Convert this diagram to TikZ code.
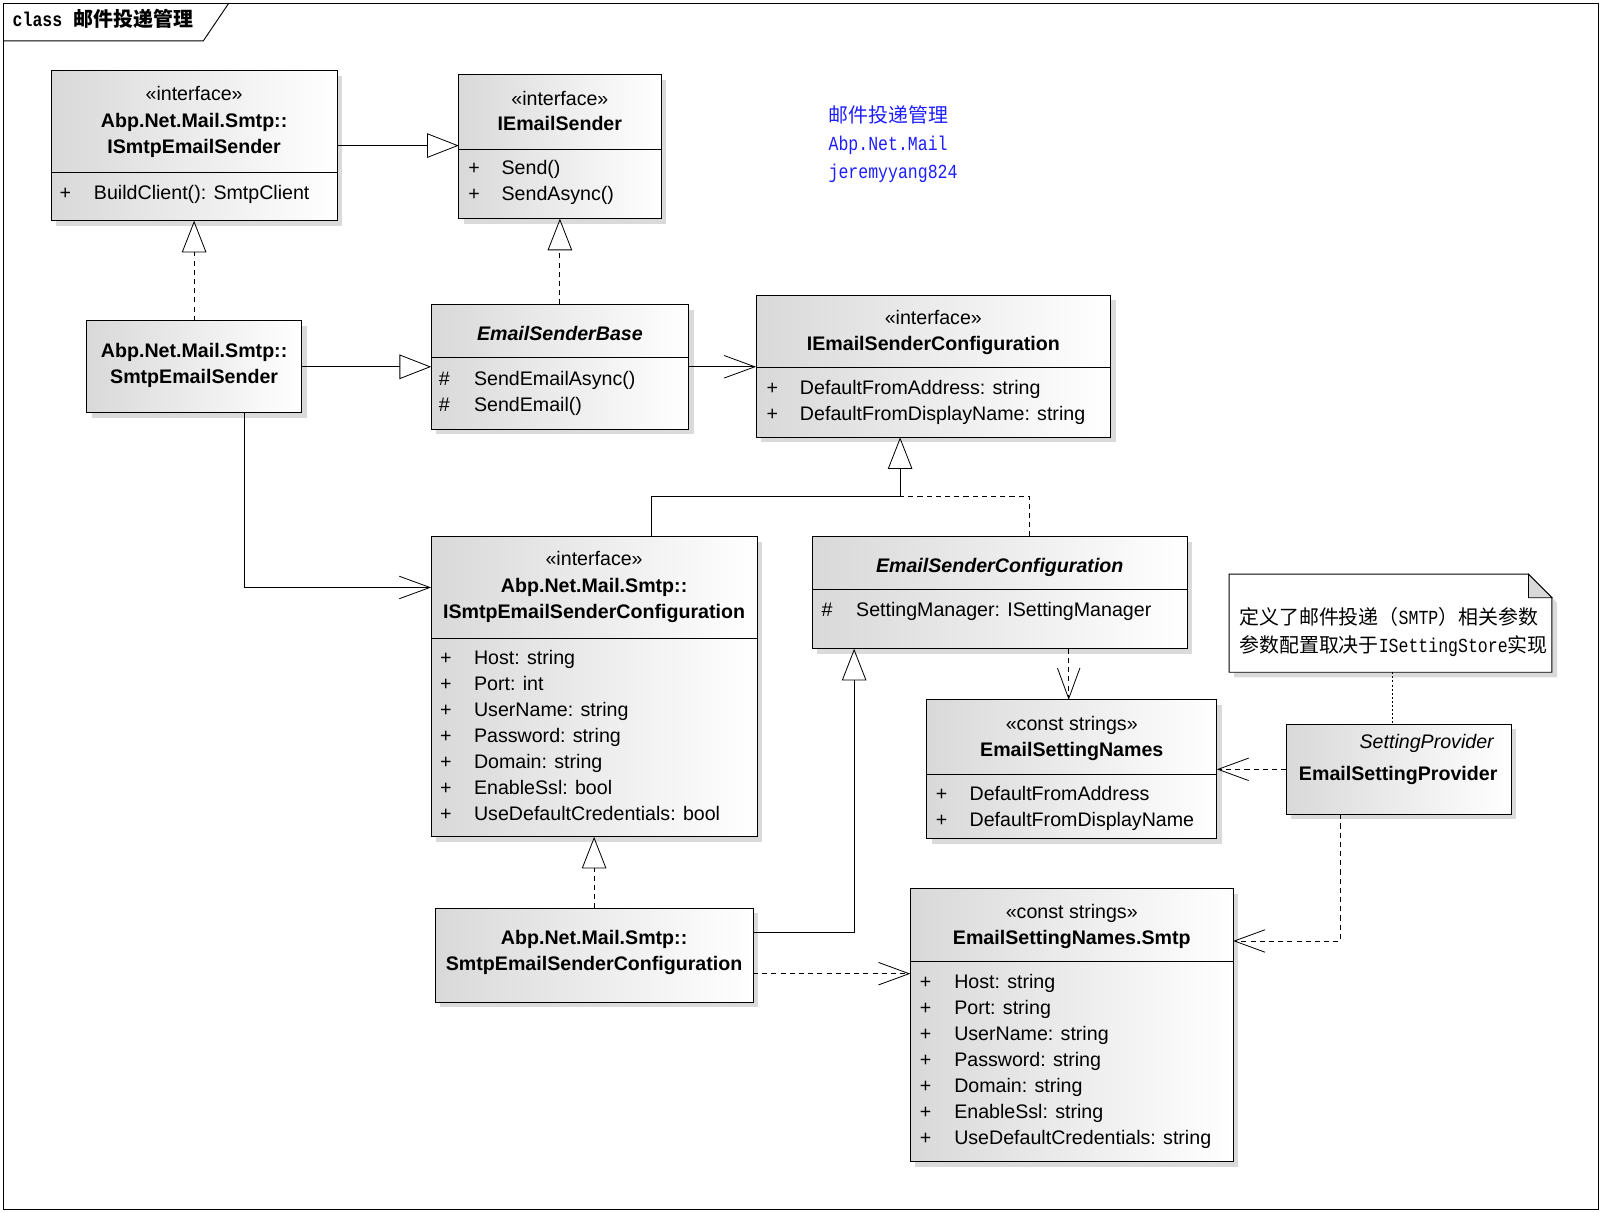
\documentclass[tikz,border=0pt]{standalone}
\usepackage{fontspec}
\setmainfont{Liberation Sans}
\newfontfamily\cjkfam{Noto Sans CJK SC}
\newfontfamily\monofam[FakeStretch=0.83]{Liberation Mono}
\usetikzlibrary{arrows.meta,shadows,calc}
\definecolor{bluetxt}{RGB}{30,30,255}
\definecolor{shadowgray}{RGB}{218,218,218}
\newcommand\cjkN{\cjkfam\fontsize{19.5pt}{24pt}\selectfont}
\newcommand\monoH{\monofam\fontsize{19.5pt}{24pt}\selectfont}
\begin{document}
\begin{tikzpicture}[x=1pt,y=-1pt,
  every node/.style={inner sep=0pt,outer sep=0pt},
  box/.style={draw=black,line width=0.9pt,left color=black!15,right color=white,anchor=north west,
    general shadow={fill=shadowgray,shadow xshift=5pt,shadow yshift=-5pt}},
  sep/.style={line width=0.9pt},
  t/.style={anchor=base,font=\fontsize{19.2pt}{23pt}\selectfont},
  tb/.style={anchor=base,font=\fontsize{19.2pt}{23pt}\selectfont\bfseries},
  ti/.style={anchor=base,font=\fontsize{19.2pt}{23pt}\selectfont\bfseries\itshape},
  tl/.style={anchor=base west,font=\fontsize{19.2pt}{23pt}\selectfont},
  conn/.style={line width=0.8pt},
  gen/.style={conn,-{Triangle[open,length=31pt,width=24pt]}},
  real/.style={gen,dash pattern=on 5pt off 4pt},
  assoc/.style={conn,-{Straight Barb[length=30pt,width=22pt]}},
  dep/.style={assoc,dash pattern=on 5pt off 4pt},
  dotl/.style={conn,dash pattern=on 2pt off 2pt}
]
\useasboundingbox (0,0) rectangle (1568,1186);

% frame
\draw[line width=0.9pt] (3,3) rectangle (1565,1184);
\draw[line width=0.9pt] (3,40) -- (199,40) -- (224,3);
\node[anchor=base west] (ftitle1) at (12.4,26) {\monofam\bfseries\fontsize{19.5pt}{24pt}\selectfont class};
\node[anchor=base west] (ftitle2) at (72,26) {\cjkfam\bfseries\fontsize{19.5pt}{24pt}\selectfont 邮件投递管理};

% boxes
\node[box,minimum width=280pt,minimum height=147pt] (ise) at (50,69) {};
\node[box,minimum width=198pt,minimum height=141pt] (ies) at (449,73) {};
\node[box,minimum width=210pt,minimum height=90pt] (sse) at (85,314) {};
\node[box,minimum width=252pt,minimum height=122pt] (esb) at (422,298) {};
\node[box,minimum width=347pt,minimum height=139pt] (iesc) at (740,289) {};
\node[box,minimum width=319pt,minimum height=294pt] (isc) at (422,525) {};
\node[box,minimum width=367pt,minimum height=110pt] (esc) at (795,525) {};
\node[box,minimum width=284pt,minimum height=136pt] (esn) at (907,685) {};
\node[box,minimum width=220pt,minimum height=88pt] (esp) at (1259,709) {};
\node[box,minimum width=311pt,minimum height=92pt] (sec) at (426,889) {};
\node[box,minimum width=316pt,minimum height=267pt] (esns) at (891,870) {};

% dividers
\draw[sep] (50,169) -- (330,169);
\draw[sep] (449,146) -- (647,146);
\draw[sep] (422,350) -- (674,350);
\draw[sep] (740,360) -- (1087,360);
\draw[sep] (422,625) -- (741,625);
\draw[sep] (795,577) -- (1162,577);
\draw[sep] (907,758) -- (1191,758);
\draw[sep] (891,941) -- (1207,941);

% note
\node[anchor=north west,minimum width=316pt,minimum height=96pt] (note) at (1203,562) {};
\fill[shadowgray] ($(note.north west)+(5,5)$) -- ($(note.north east)+(-18,5)$) -- ($(note.north east)+(5,28)$) -- ($(note.south east)+(5,5)$) -- ($(note.south west)+(5,5)$) -- cycle;
\draw[line width=0.9pt,fill=white] (note.north west) -- ($(note.north east)+(-23,0)$) -- ($(note.north east)+(0,23)$) -- (note.south east) -- (note.south west) -- cycle;
\draw[line width=0.8pt,fill=black!15] ($(note.north east)+(-23,0)$) -- ($(note.north east)+(-23,23)$) -- ($(note.north east)+(0,23)$) -- cycle;
\node[anchor=base west] (nt1) at (1213,611) {\cjkN 定义了邮件投递（{\monoH SMTP}）相关参数};
\node[anchor=base west] (nt2) at (1213,638.5) {\cjkN 参数配置取决于{\monoH ISettingStore}实现};

% blue text
\node[anchor=base west,text=bluetxt] (b1) at (811,119.5) {\cjkN 邮件投递管理};
\node[anchor=base west,text=bluetxt] (b2) at (811,147.5) {\monoH Abp.Net.Mail};
\node[anchor=base west,text=bluetxt] (b3) at (811,174.5) {\monoH jeremyyang824};

% ISmtpEmailSender
\node[t] (ise1) at (190,98) {«interface»};
\node[tb] (ise2) at (190,124.5) {Abp.Net.Mail.Smtp::};
\node[tb] (ise3) at (190,150) {ISmtpEmailSender};
\node[t] (ise4) at (64,195) {+};
\node[tl] (ise5) at (92,195) {BuildClient(): SmtpClient};

% IEmailSender
\node[t] (ies1) at (548,103) {«interface»};
\node[tb] (ies2) at (548,128) {IEmailSender};
\node[t] (ies3) at (464,171) {+};
\node[tl] (ies4) at (491,171) {Send()};
\node[t] (ies5) at (464,196.5) {+};
\node[tl] (ies6) at (491,196.5) {SendAsync()};

% SmtpEmailSender
\node[tb] (sse1) at (190,349.5) {Abp.Net.Mail.Smtp::};
\node[tb] (sse2) at (190,375) {SmtpEmailSender};

% EmailSenderBase
\node[ti] (esb1) at (548,333) {EmailSenderBase};
\node[t] (esb2) at (435,377) {\#};
\node[tl] (esb3) at (464,377) {SendEmailAsync()};
\node[t] (esb4) at (435,402.5) {\#};
\node[tl] (esb5) at (464,402.5) {SendEmail()};

% IEmailSenderConfiguration
\node[t] (iesc1) at (913.5,318) {«interface»};
\node[tb] (iesc2) at (913.5,343) {IEmailSenderConfiguration};
\node[t] (iesc3) at (756,386) {+};
\node[tl] (iesc4) at (783,386) {DefaultFromAddress: string};
\node[t] (iesc5) at (756,411.5) {+};
\node[tl] (iesc6) at (783,411.5) {DefaultFromDisplayName: string};

% ISmtpEmailSenderConfiguration
\node[t] (isc1) at (581.5,553.5) {«interface»};
\node[tb] (isc2) at (581.5,579.5) {Abp.Net.Mail.Smtp::};
\node[tb] (isc3) at (581.5,605) {ISmtpEmailSenderConfiguration};
\foreach \y/\s [count=\i] in {650/Host: string,675.5/Port: int,701/UserName: string,726.5/Password: string,752/Domain: string,777.5/EnableSsl: bool,803/UseDefaultCredentials: bool}{
  \node[t] (iscp\i) at (436.5,\y) {+};
  \node[tl] (isca\i) at (464,\y) {\s};
}

% EmailSenderConfiguration
\node[ti] (esc1) at (978.5,560.5) {EmailSenderConfiguration};
\node[t] (esc2) at (809.5,603.5) {\#};
\node[tl] (esc3) at (838,603.5) {SettingManager: ISettingManager};

% EmailSettingNames
\node[t] (esn1) at (1049,715) {«const strings»};
\node[tb] (esn2) at (1049,740.5) {EmailSettingNames};
\node[t] (esn3) at (921.5,783.5) {+};
\node[tl] (esn4) at (949,783.5) {DefaultFromAddress};
\node[t] (esn5) at (921.5,809) {+};
\node[tl] (esn6) at (949,809) {DefaultFromDisplayName};

% EmailSettingProvider
\node[anchor=base east,font=\fontsize{19.2pt}{23pt}\selectfont\itshape] (esp1) at (1462,732.5) {SettingProvider};
\node[tb] (esp2) at (1368.5,764) {EmailSettingProvider};

% SmtpEmailSenderConfiguration
\node[tb] (sec1) at (581.5,924.5) {Abp.Net.Mail.Smtp::};
\node[tb] (sec2) at (581.5,950) {SmtpEmailSenderConfiguration};

% EmailSettingNames.Smtp
\node[t] (esns1) at (1049,899) {«const strings»};
\node[tb] (esns2) at (1049,924.5) {EmailSettingNames.Smtp};
\foreach \y/\s [count=\i] in {967.5/Host: string,993/Port: string,1018.5/UserName: string,1044/Password: string,1069.5/Domain: string,1095/EnableSsl: string,1120.5/UseDefaultCredentials: string}{
  \node[t] (esnsp\i) at (906,\y) {+};
  \node[tl] (esnsa\i) at (934,\y) {\s};
}

% connectors
\draw[gen] (ise.east) -- (ise.east -| ies.west);
\draw[real] (sse.north) -- (ise.south);
\draw[real] (esb.north) -- (ies.south);
\draw[gen] (sse.east) -- (sse.east -| esb.west);
\draw[assoc] (esb.east) -- (esb.east -| iesc.west);
\draw[assoc] ([xshift=49pt]sse.south) |- ([yshift=-50pt]isc.north west);
\coordinate (j1) at (881,486);
\draw[conn] ([xshift=56.5pt]isc.north) |- (j1);
\draw[conn,dash pattern=on 5pt off 4pt] ([xshift=29.5pt]esc.north) |- (j1);
\draw[gen] (j1) -- (j1 |- iesc.south);
\coordinate (d1) at ([xshift=-3pt]esn.north);
\draw[dep] (d1 |- esc.south) -- (d1);
\draw[dep] (esp.west) -- (esp.west -| esn.east);
\draw[dep] ([xshift=-57pt]esp.south) |- ([yshift=-51pt]esns.north east);
\draw[dotl] ([xshift=2pt]note.south) -- ([xshift=2pt]note.south |- esp.north);
\draw[real] (sec.north) -- (isc.south);
\draw[gen] ([yshift=22pt]sec.east) -| ([xshift=-142.5pt]esc.south);
\draw[dep] ([yshift=-18pt]sec.east) -- ([yshift=-18pt]sec.east -| esns.west);
\end{tikzpicture}
\end{document}
